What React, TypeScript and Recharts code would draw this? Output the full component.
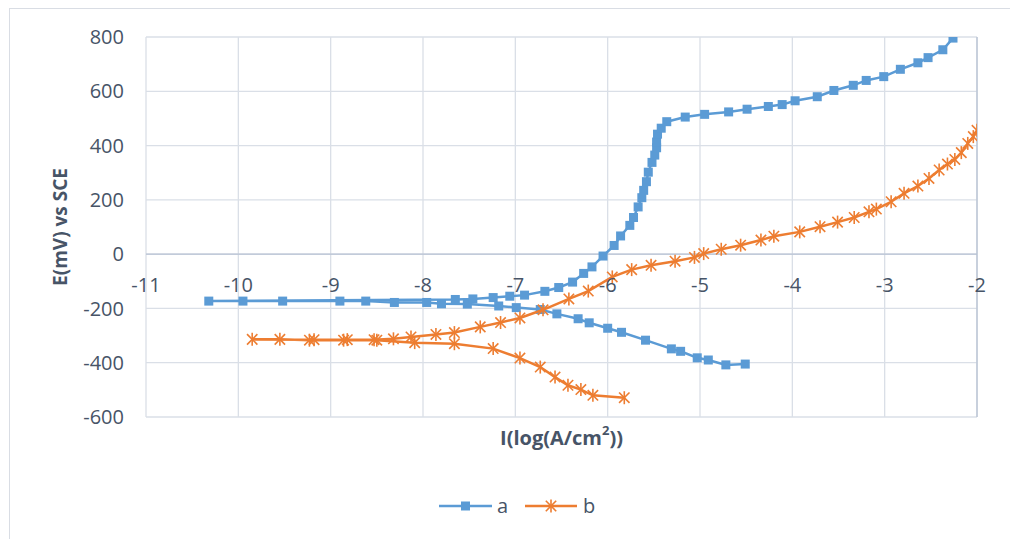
import {
  ScatterChart,
  Scatter,
  XAxis,
  YAxis,
  CartesianGrid,
  ReferenceLine,
  Legend,
} from "recharts";

// log(I) in A/cm2 and potential in mV vs SCE
const A_LOG_I = [
  -4.51, -4.72, -4.91, -5.03, -5.21, -5.31, -5.59, -5.85, -6.0, -6.2, -6.32,
  -6.55, -6.73, -6.99, -7.18, -7.52, -7.8, -7.96, -8.31, -8.62, -8.9, -9.52,
  -9.95, -10.32, -7.65, -7.46, -7.24, -7.06, -6.9, -6.68, -6.53, -6.38, -6.26,
  -6.17, -6.05, -5.93, -5.86, -5.76, -5.72, -5.67, -5.63, -5.61, -5.58, -5.56,
  -5.52, -5.49, -5.47, -5.47, -5.46, -5.42, -5.36, -5.16, -4.95, -4.69, -4.49,
  -4.26, -4.11, -3.97, -3.73, -3.55, -3.34, -3.2, -3.01, -2.83, -2.64, -2.53,
  -2.37, -2.26,
];
const A_E = [
  -405, -408, -390, -382, -358, -349, -317, -288, -273, -253, -238, -220, -204,
  -197, -191, -184, -183, -178, -178, -173, -173, -173, -173, -173, -167, -165,
  -160, -155, -151, -137, -123, -103, -71, -47, -7, 32, 67, 106, 135, 174, 208,
  235, 267, 302, 338, 365, 392, 413, 442, 464, 488, 505, 515, 524, 534, 544,
  551, 565, 580, 603, 622, 640, 654, 681, 705, 724, 753, 796,
];

const B_LOG_I = [
  -5.82, -6.16, -6.29, -6.43, -6.57, -6.73, -6.95, -7.24, -7.66, -8.09, -8.5,
  -8.86, -9.23, -9.55, -9.85, -9.18, -8.82, -8.53, -8.32, -8.13, -7.86, -7.66,
  -7.38, -7.16, -6.95, -6.7, -6.42, -6.21, -5.95, -5.74, -5.53, -5.27, -5.06,
  -4.96, -4.77, -4.56, -4.34, -4.2, -3.92, -3.7, -3.51, -3.33, -3.17, -3.09,
  -2.93, -2.79, -2.64, -2.52, -2.41, -2.32, -2.24, -2.17, -2.1, -2.04, -2.0,
];
const B_E = [
  -529, -520, -499, -483, -453, -416, -383, -348, -330, -326, -317, -317, -317,
  -314, -314, -315, -315, -315, -312, -305, -296, -289, -268, -252, -235, -205,
  -165, -136, -84, -57, -41, -26, -12, 2, 18, 33, 52, 66, 82, 101, 118, 135,
  156, 166, 193, 224, 251, 279, 310, 332, 349, 374, 408, 433, 456,
];

const X_TICKS = [-11, -10, -9, -8, -7, -6, -5, -4, -3, -2];
const Y_TICKS = [-600, -400, -200, 0, 200, 400, 600, 800];

const dataA = A_LOG_I.map((x, i) => ({ x, y: A_E[i] }));
const dataB = B_LOG_I.map((x, i) => ({ x, y: B_E[i] }));

const BLUE = "#5B9BD5";
const ORANGE = "#ED7D31";
const TEXT = "#475467";
const GRID = "#dadfe7";
const AXIS = "#b7c2d3";
const FONT = "'Open Sans', sans-serif";

const W = 1010;
const H = 539;
const MARGIN = { top: 37, right: 33, left: 46, bottom: 82 };
const Y_AXIS_W = 100;
const X_AXIS_H = 40;
const PLOT_H = H - MARGIN.top - MARGIN.bottom - X_AXIS_H;
const ZERO_Y = MARGIN.top + (PLOT_H * 800) / 1400;

const Square = (props: any) => {
  const { cx, cy } = props;
  if (cx == null || cy == null) return null;
  return <rect x={cx - 4.5} y={cy - 4.5} width={9} height={9} fill={BLUE} />;
};

const Star = (props: any) => {
  const { cx, cy } = props;
  if (cx == null || cy == null) return null;
  const r = 6.5;
  const d = 5.2;
  return (
    <g stroke={ORANGE} strokeWidth={1.6}>
      <line x1={cx} y1={cy - r} x2={cx} y2={cy + r} />
      <line x1={cx - d} y1={cy - d} x2={cx + d} y2={cy + d} />
      <line x1={cx - d} y1={cy + d} x2={cx + d} y2={cy - d} />
    </g>
  );
};

// x tick labels sit just under the zero line, like the Excel original
const XTick = (props: any) => {
  const { x, payload } = props;
  return (
    <text
      x={x}
      y={ZERO_Y + 31}
      dy="0.355em"
      textAnchor="middle"
      fill={TEXT}
      fontSize={20}
      fontFamily={FONT}
    >
      {payload.value}
    </text>
  );
};

const YTitle = (props: any) => {
  const { viewBox } = props;
  const x = viewBox.x + 14;
  const y = viewBox.y + viewBox.height / 2;
  return (
    <text
      x={x}
      y={y}
      transform={`rotate(-90 ${x} ${y})`}
      textAnchor="middle"
      dominantBaseline="central"
      fill={TEXT}
      fontSize={19}
      fontWeight="bold"
      fontFamily={FONT}
    >
      E(mV) vs SCE
    </text>
  );
};

const XTitle = (props: any) => {
  const { viewBox } = props;
  const x = viewBox.x + viewBox.width / 2;
  const y = viewBox.y + 20;
  return (
    <text
      x={x}
      y={y}
      textAnchor="middle"
      dominantBaseline="central"
      fill={TEXT}
      fontSize={20}
      fontWeight="bold"
      fontFamily={FONT}
    >
      I(log(A/cm
      <tspan fontSize={13} dy={-7}>
        2
      </tspan>
      <tspan dy={7}>))</tspan>
    </text>
  );
};

const renderLegend = () => (
  <svg width={W} height={30} style={{ display: "block" }}>
    <line x1={439} y1={14} x2={492} y2={14} stroke={BLUE} strokeWidth={2.5} />
    <Square cx={465.5} cy={14} />
    <text x={497} y={14} dy="0.355em" fill={TEXT} fontSize={20} fontFamily={FONT}>
      a
    </text>
    <line x1={525} y1={14} x2={577} y2={14} stroke={ORANGE} strokeWidth={2.5} />
    <Star cx={551} cy={14} />
    <text x={583} y={14} dy="0.355em" fill={TEXT} fontSize={20} fontFamily={FONT}>
      b
    </text>
  </svg>
);

export default function App() {
  return (
    <div style={{ position: "relative", width: W, height: H, overflow: "hidden", background: "#fff" }}>
      <style>{`body{margin:0;overflow:hidden}`}</style>
      <div
        style={{
          position: "absolute",
          left: 9,
          top: 8,
          width: W,
          height: H,
          borderLeft: "1px solid #d9dde4",
          borderTop: "1px solid #d9dde4",
        }}
      />
      <ScatterChart width={W} height={H} margin={MARGIN}>
        <CartesianGrid stroke={GRID} strokeWidth={1.3} />
        <XAxis
          type="number"
          dataKey="x"
          domain={[-11, -2]}
          ticks={X_TICKS}
          allowDataOverflow
          axisLine={false}
          tickLine={false}
          height={X_AXIS_H}
          tick={<XTick />}
          label={<XTitle />}
        />
        <YAxis
          type="number"
          dataKey="y"
          domain={[-600, 800]}
          ticks={Y_TICKS}
          allowDataOverflow
          axisLine={false}
          tickLine={false}
          tickSize={0}
          tickMargin={22}
          width={Y_AXIS_W}
          tick={{ fill: TEXT, fontSize: 20, fontFamily: FONT }}
          label={<YTitle />}
        />
        <ReferenceLine y={0} stroke={AXIS} strokeWidth={1.3} />
        <ReferenceLine x={-2} stroke={AXIS} strokeWidth={1.3} />
        <Scatter
          name="a"
          data={dataA}
          fill={BLUE}
          line={{ stroke: BLUE, strokeWidth: 2.5 }}
          lineType="joint"
          shape={<Square />}
          isAnimationActive={false}
        />
        <Scatter
          name="b"
          data={dataB}
          fill={ORANGE}
          line={{ stroke: ORANGE, strokeWidth: 2.5 }}
          lineType="joint"
          shape={<Star />}
          isAnimationActive={false}
        />
        <Legend
          verticalAlign="middle"
          content={renderLegend}
          wrapperStyle={{ top: 492, left: 0, width: W }}
        />
      </ScatterChart>
    </div>
  );
}
